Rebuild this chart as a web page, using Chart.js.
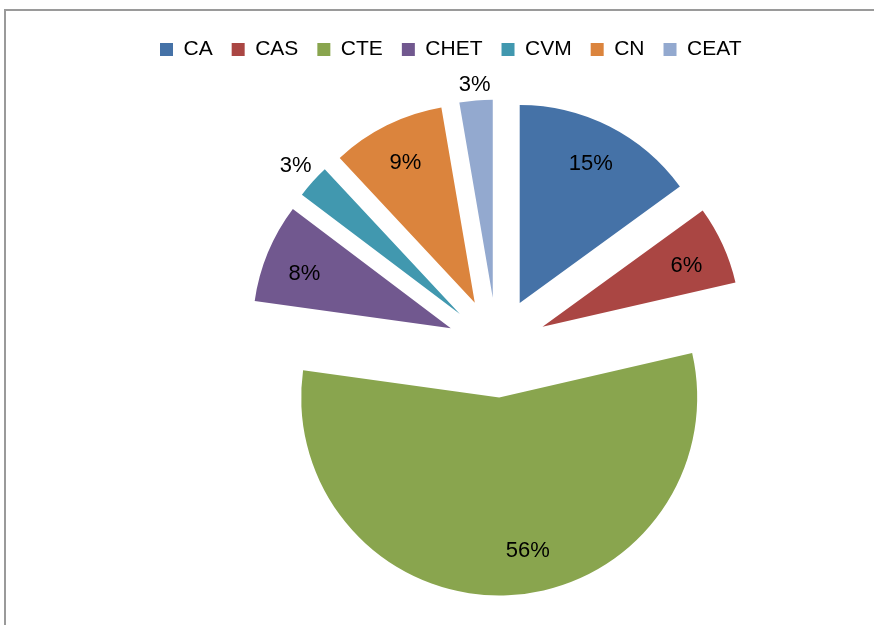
<!DOCTYPE html>
<html><head><meta charset="utf-8">
<script src="https://cdn.jsdelivr.net/npm/chart.js@4"></script>
<style>
html,body{margin:0;padding:0;background:#fff;overflow:hidden;}
#wrap{position:relative;width:874px;height:625px;overflow:hidden;}
#frame{position:absolute;left:4px;top:9px;width:1000px;height:1000px;border-left:2px solid #9a9a9a;border-top:2px solid #9a9a9a;box-sizing:border-box;}
canvas{position:absolute;left:0;top:0;}
</style></head><body>
<div id="wrap"><div id="frame"></div><canvas id="c" width="874" height="625"></canvas></div>
<script>
// ---- data ----
const categories = ['CA', 'CAS', 'CTE', 'CHET', 'CVM', 'CN', 'CEAT'];
const shares = [15.0, 6.4, 55.8, 8.1, 2.75, 9.25, 2.7];
const colors = ['#4572A7', '#AA4643', '#89A54E', '#71588F', '#4198AF', '#DB843D', '#93A9CF'];

// ---- style ----
const EXPLODE = 50;          // distance each slice is pulled out
const RADIUS = 198;
const FONT = '"Liberation Sans", Arial, sans-serif';
const LABEL_NUDGE_DEG = [0, 1.5, -8, -2, 0, 0, 0];

const explodedPie = {
  id: 'explodedPie',
  beforeDatasetDraw(chart, args) {
    const ctx = chart.ctx;
    const meta = args.meta;
    const total = meta.total || shares.reduce((a, b) => a + b, 0);
    meta.data.forEach(arc => {
      const mid = (arc.startAngle + arc.endAngle) / 2;
      ctx.save();
      ctx.translate(Math.cos(mid) * EXPLODE, Math.sin(mid) * EXPLODE);
      arc.draw(ctx);
      ctx.restore();
    });
    ctx.save();
    ctx.font = '22px ' + FONT;
    ctx.fillStyle = '#000';
    ctx.textAlign = 'center';
    ctx.textBaseline = 'middle';
    meta.data.forEach((arc, i) => {
      const pct = Math.round(shares[i] / total * 100);
      const text = pct + '%';
      const mid = (arc.startAngle + arc.endAngle) / 2;
      const ax = arc.x + Math.cos(mid) * EXPLODE;
      const ay = arc.y + Math.sin(mid) * EXPLODE;
      const ang = mid + (LABEL_NUDGE_DEG[i] || 0) * Math.PI / 180;
      let r;
      if (pct < 5) {
        const hw = ctx.measureText(text).width / 2, hh = 8;
        r = arc.outerRadius + 6 + hw * Math.abs(Math.cos(ang)) + hh * Math.abs(Math.sin(ang));
      } else {
        r = arc.outerRadius * 0.79;
      }
      ctx.fillText(text, ax + Math.cos(ang) * r, ay + Math.sin(ang) * r);
    });
    ctx.restore();
    return false;
  }
};

new Chart(document.getElementById('c'), {
  type: 'pie',
  data: {
    labels: categories,
    datasets: [{ data: shares, backgroundColor: colors, borderWidth: 0, radius: RADIUS }]
  },
  options: {
    responsive: false,
    animation: false,
    events: [],
    devicePixelRatio: 1,
    layout: { padding: { left: 141, right: 21, top: 20, bottom: 0 } },
    plugins: {
      legend: {
        position: 'top',
        align: 'start',
        labels: { boxWidth: 13, boxHeight: 13, padding: 19, color: '#000', font: { family: FONT, size: 21 } }
      },
      tooltip: { enabled: false }
    }
  },
  plugins: [explodedPie]
});
</script>
</body></html>
